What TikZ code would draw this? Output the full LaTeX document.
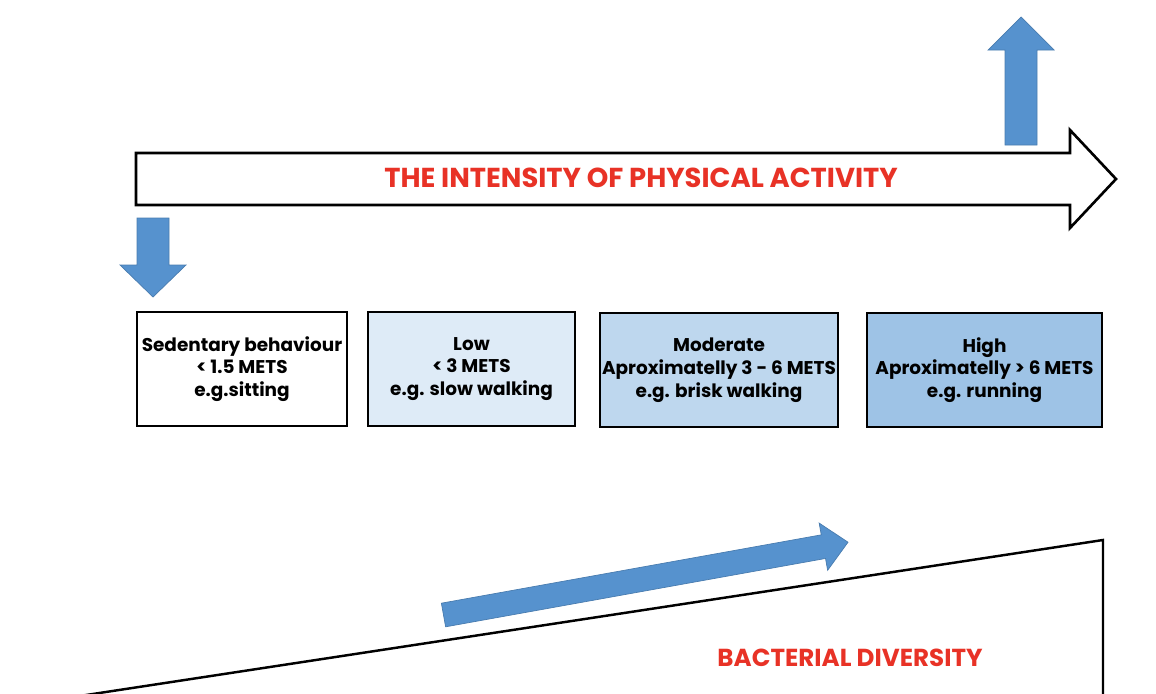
\documentclass[tikz,border=0pt]{standalone}
\usepackage{fontspec}
\setmainfont{Poppins}
\usetikzlibrary{positioning}
\definecolor{arrowblue}{RGB}{86,146,206}
\definecolor{titlered}{RGB}{232,50,38}
\definecolor{lowfill}{RGB}{222,235,247}
\definecolor{modfill}{RGB}{190,215,238}
\definecolor{highfill}{RGB}{158,195,230}

\begin{document}
\begin{tikzpicture}[x=0.02cm,y=-0.02cm,line join=miter,
  levelbox/.style={draw=black,line width=1.1pt,minimum height=2.28cm,align=center,
    inner sep=0pt,font=\bfseries\fontsize{10.5}{13}\selectfont},
  bluearrow/.style={fill=arrowblue,draw=arrowblue!85!black,line width=0.4pt},
  heading/.style={text=titlered,font=\bfseries\fontsize{15.6}{18}\selectfont}]
\path[use as bounding box,clip] (0,0) rectangle (1156,693);

% intensity arrow
\draw[line width=1.5pt,fill=white] (136,153) -- (1070,153) -- (1070,130) -- (1116,179)
  -- (1070,228) -- (1070,205) -- (136,205) -- cycle;
\node[heading] (intensity) at (641,178) {THE INTENSITY OF PHYSICAL ACTIVITY};

% up and down arrows
\draw[bluearrow] (1005,145) -- (1005,50) -- (988,50) -- (1021,17) -- (1054,50)
  -- (1037,50) -- (1037,145) -- cycle;
\draw[bluearrow] (137,218) -- (169,218) -- (169,265) -- (186,265) -- (153,297)
  -- (120,265) -- (137,265) -- cycle;

% levels
\node[levelbox,fill=white,minimum width=4.2cm] (sed) at (242,369)
  {Sedentary behaviour\\< 1.5 METS\\e.g.sitting};
\node[levelbox,fill=lowfill,minimum width=4.14cm] (low) at (471.5,369)
  {Low\\< 3 METS\\e.g. slow walking};
\node[levelbox,fill=modfill,minimum width=4.76cm] (mod) at (719,370)
  {Moderate\\Aproximatelly 3 - 6 METS\\e.g. brisk walking};
\node[levelbox,fill=highfill,minimum width=4.7cm] (high) at (984.5,370)
  {High\\Aproximatelly > 6 METS\\e.g. running};

% bacterial diversity
\draw[line width=1.4pt] (60,699) -- (1103,540) -- (1103,710);
\begin{scope}[shift={(443.5,615)},rotate=10.2]
\draw[bluearrow] (0,-12) -- (386,-12) -- (386,-24) -- (411,0) -- (386,24)
  -- (386,12) -- (0,12) -- cycle;
\end{scope}
\node[heading,font=\bfseries\fontsize{14}{17}\selectfont] (diversity) at (850,658) {BACTERIAL DIVERSITY};
\end{tikzpicture}
\end{document}
